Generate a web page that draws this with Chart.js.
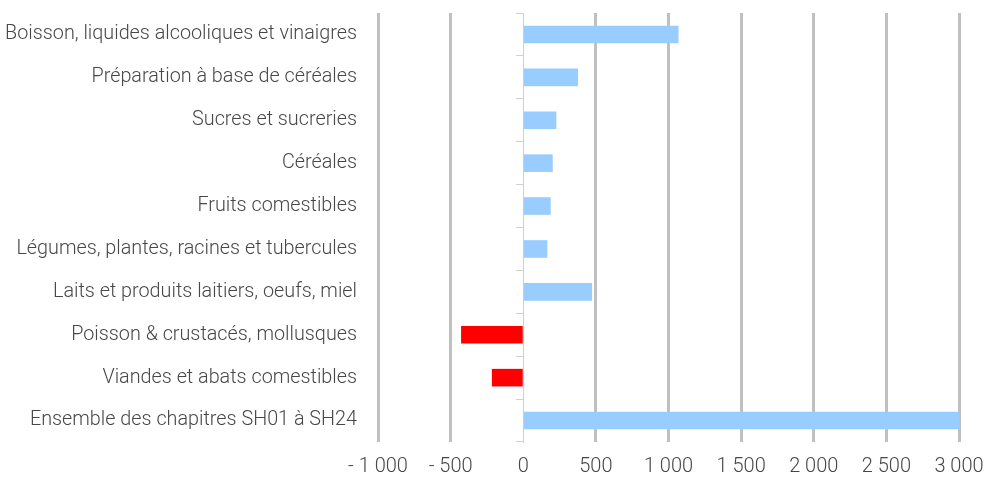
<!DOCTYPE html>
<html>
<head>
<meta charset="utf-8">
<script src="https://cdn.jsdelivr.net/npm/chart.js@4/dist/chart.umd.min.js"></script>
<style>
  html, body { margin: 0; padding: 0; background: #ffffff; }
  #wrap { width: 1001px; height: 477px; position: relative; }
</style>
</head>
<body>
<div id="wrap"><canvas id="c"></canvas></div>
<script>
const categories = [
  "Boisson, liquides alcooliques et vinaigres",
  "Préparation à base de céréales",
  "Sucres et sucreries",
  "Céréales",
  "Fruits comestibles",
  "Légumes, plantes, racines et tubercules",
  "Laits et produits laitiers, oeufs, miel",
  "Poisson & crustacés, mollusques",
  "Viandes et abats comestibles",
  "Ensemble des chapitres SH01 à SH24"
];
const values = [1069, 377, 228, 203, 189, 166, 474, -428, -216, 3000];
const tickValues = [-1000, -500, 0, 500, 1000, 1500, 2000, 2500, 3000];
const tickLabels = ["- 1 000", "- 500", "0", "500", "1 000", "1 500", "2 000", "2 500", "3 000"];

const FONT = "Roboto, 'DejaVu Sans Condensed', sans-serif";
const TEXT = "#474747";

new Chart(document.getElementById('c'), {
  type: 'bar',
  data: {
    labels: categories,
    datasets: [{
      data: values,
      backgroundColor: ctx => (ctx.raw < 0 ? '#FF0000' : '#99CCFF'),
      borderWidth: 0,
      barPercentage: 0.41,
      categoryPercentage: 1.0
    }]
  },
  options: {
    indexAxis: 'y',
    responsive: true,
    maintainAspectRatio: false,
    animation: false,
    layout: { padding: { top: 13, right: 42, bottom: 0, left: 0 } },
    plugins: { legend: { display: false }, tooltip: { enabled: false } },
    scales: {
      x: {
        type: 'linear',
        min: -1000,
        max: 3000,
        afterBuildTicks: scale => { scale.ticks = tickValues.map(v => ({ value: v })); },
        afterFit: scale => { scale.height = 35; scale.paddingLeft = 0; scale.paddingRight = 0; },
        ticks: {
          color: TEXT,
          font: { family: FONT, size: 20, weight: 300, lineHeight: 1 },
          padding: 15,
          maxRotation: 0,
          autoSkip: false,
          callback: (v) => { const i = tickValues.indexOf(v); return i >= 0 ? tickLabels[i] : ''; }
        },
        grid: {
          drawTicks: false,
          color: ctx => (ctx.tick && ctx.tick.value === 0 ? 'rgba(0,0,0,0)' : '#c0c0c0'),
          lineWidth: ctx => (ctx.tick && ctx.tick.value === 0 ? 1 : 3)
        },
        border: { display: false }
      },
      y: {
        type: 'category',
        afterFit: scale => { scale.width = 378; scale.paddingTop = 0; scale.paddingBottom = 0; },
        ticks: {
          color: TEXT,
          font: { family: FONT, size: 19.8, weight: 300 },
          padding: 21,
          autoSkip: false
        },
        grid: { display: false, drawTicks: false },
        border: { display: false }
      },
      y2: {
        type: 'category',
        axis: 'y',
        position: { x: 0 },
        afterFit: scale => { scale.paddingTop = 0; scale.paddingBottom = 0; },
        ticks: { display: false },
        grid: {
          offset: true,
          drawOnChartArea: false,
          drawTicks: true,
          tickLength: 7,
          color: '#d0d0d0',
          lineWidth: 1
        },
        border: { display: true, color: '#d0d0d0', width: 1 }
      }
    }
  }
});
</script>
</body>
</html>
